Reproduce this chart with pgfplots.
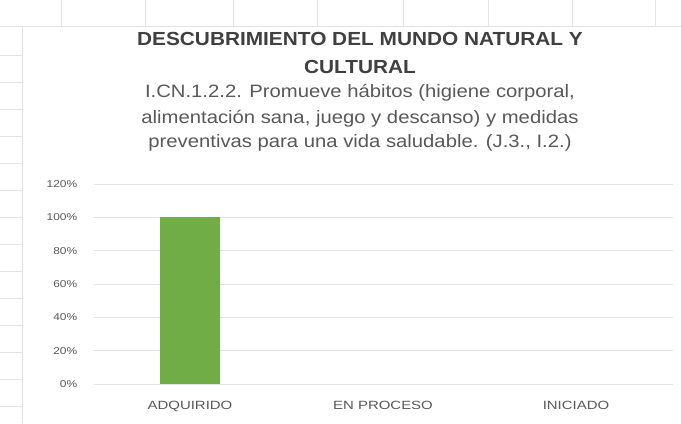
\documentclass[border=0pt]{standalone}
\usepackage{pgfplots}
\pgfplotsset{compat=1.18}
\usepackage{fontspec}
\setmainfont{Liberation Sans}
\definecolor{bargreen}{HTML}{70AD47}
\definecolor{txt}{HTML}{595959}
\definecolor{ttl}{HTML}{404040}
\definecolor{grid}{HTML}{E3E3E3}
\begin{document}
\begin{tikzpicture}[x=1bp,y=1bp]
\fill[white] (0,0) rectangle (681,423);
\path[use as bounding box] (0,0) rectangle (681,423);
% spreadsheet lines behind chart
\draw[grid,line width=0.6bp] (0,397) -- (681,397);
\foreach \x in {61,145,233,317,403,488,572,655} \draw[grid,line width=0.6bp] (\x,423) -- (\x,397);
\draw[grid,line width=0.6bp] (22,397) -- (22,0);
\foreach \y in {368,341,314,287,260,233,206,179,152,125,98,71,44,17} \draw[grid,line width=0.6bp] (0,\y) -- (22,\y);
\begin{axis}[
  at={(93.5bp,39bp)}, anchor=south west,
  scale only axis, width=579bp, height=200bp,
  ymin=0, ymax=1.2, xmin=-0.5, xmax=2.5,
  ytick={0,0.2,0.4,0.6,0.8,1.0,1.2},
  yticklabels={0\%,20\%,40\%,60\%,80\%,100\%,120\%},
  xtick={0,1,2}, xticklabels={ADQUIRIDO,EN PROCESO,INICIADO},
  axis line style={draw=none}, tick style={draw=none},
  ymajorgrids, grid style={draw=grid,line width=0.8bp},
  axis x line*=bottom,
  x axis line style={draw=grid,line width=0.8bp},
  tick label style={font=\fontsize{10}{12}\selectfont, text=txt},
  /pgf/number format/assume math mode=true,
  yticklabel style={xshift=-12bp, xscale=1.2},
  xticklabel style={yshift=-9bp, xscale=1.25, font=\fontsize{12}{14}\selectfont},
  ybar, bar width=60bp,
]
\addplot[fill=bargreen, draw=none] coordinates {(0,1.0)};
\end{axis}
\begin{scope}[every node/.style={anchor=base, inner sep=0pt, xscale=1.1}]
\node[text=ttl, font=\bfseries\fontsize{19}{21}\selectfont] at (360,378) {DESCUBRIMIENTO DEL MUNDO NATURAL Y};
\node[text=ttl, font=\bfseries\fontsize{19}{21}\selectfont] at (360,350) {CULTURAL};
\end{scope}
\begin{scope}[every node/.style={anchor=base, inner sep=0pt, xscale=1.13}]
\node[text=txt, font=\fontsize{18}{21}\selectfont] at (360,326) {I.CN.1.2.2. Promueve hábitos (higiene corporal,};
\node[text=txt, font=\fontsize{18}{21}\selectfont] at (360,300) {alimentación sana, juego y descanso) y medidas};
\node[text=txt, font=\fontsize{18}{21}\selectfont] at (360,276) {preventivas para una vida saludable. (J.3., I.2.)};
\end{scope}
\end{tikzpicture}
\end{document}
